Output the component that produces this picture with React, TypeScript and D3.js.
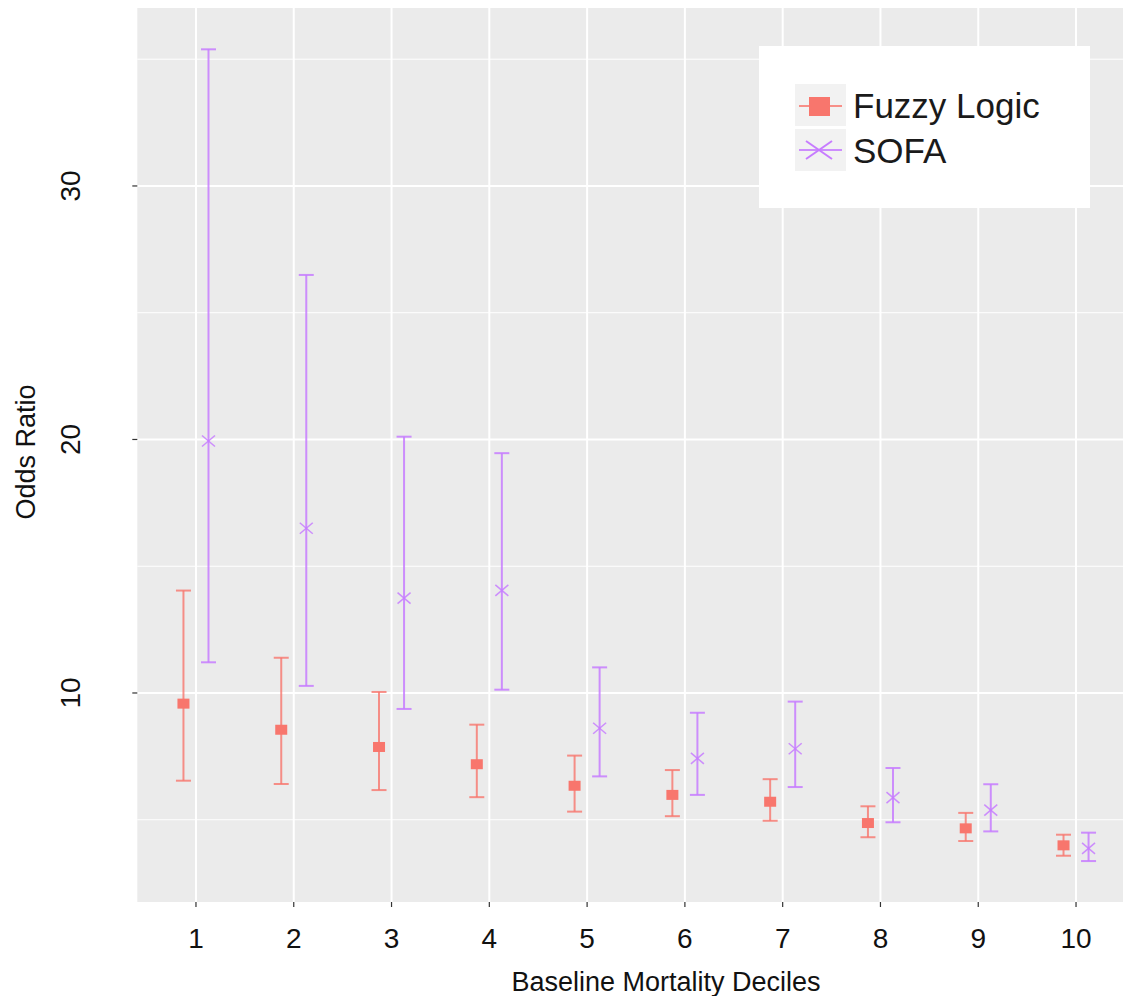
import * as d3 from "d3";

// odds ratios
const deciles = ["1", "2", "3", "4", "5", "6", "7", "8", "9", "10"];
const fuzzyOR = [9.58, 8.55, 7.87, 7.19, 6.34, 5.98, 5.71, 4.87, 4.66, 3.99];
const fuzzyLower = [6.54, 6.41, 6.17, 5.89, 5.32, 5.14, 4.96, 4.31, 4.16, 3.58];
const fuzzyUpper = [14.04, 11.39, 10.04, 8.75, 7.53, 6.96, 6.6, 5.53, 5.27, 4.41];
const sofaOR = [19.94, 16.5, 13.74, 14.05, 8.61, 7.42, 7.8, 5.87, 5.38, 3.87];
const sofaLower = [11.21, 10.28, 9.37, 10.13, 6.71, 5.98, 6.29, 4.9, 4.54, 3.37];
const sofaUpper = [35.39, 26.49, 20.11, 19.46, 11.01, 9.22, 9.66, 7.04, 6.4, 4.49];
const yTicks = [10, 20, 30];
const yMinor = [5, 15, 25, 35];
const seriesNames = ["Fuzzy Logic", "SOFA"];

const W = 1123;
const H = 996;
const FUZZY = "#F8766D";
const SOFA = "#C77CFF";
const FONT = "'Liberation Sans', Arial, Helvetica, sans-serif";

export default function App() {
  const panel = { left: 137.3, right: 1134.7, top: 8, bottom: 902 };

  const x = d3
    .scalePoint<string>()
    .domain(deciles)
    .range([panel.left, panel.right])
    .padding(0.6);
  const step = x.step();
  const dodge = step * 0.128;
  const cap = 7.5;

  const y = d3.scaleLinear().domain([1.755, 37.02]).range([panel.bottom, panel.top]);

  const fuzzy = deciles.map((d, i) => ({ d, v: fuzzyOR[i], lo: fuzzyLower[i], hi: fuzzyUpper[i] }));
  const sofa = deciles.map((d, i) => ({ d, v: sofaOR[i], lo: sofaLower[i], hi: sofaUpper[i] }));

  return (
    <svg
      width={W}
      height={H}
      style={{ position: "absolute", left: 0, top: 0, background: "#fff" }}
      fontFamily={FONT}
    >
      {/* panel */}
      <rect
        x={panel.left}
        y={panel.top}
        width={panel.right - panel.left}
        height={panel.bottom - panel.top}
        fill="#EBEBEB"
      />
      {yMinor.map((t) => (
        <line key={"mi" + t} x1={panel.left} x2={panel.right} y1={y(t)} y2={y(t)} stroke="#fff" strokeWidth={1} />
      ))}
      {yTicks.map((t) => (
        <line key={"ma" + t} x1={panel.left} x2={panel.right} y1={y(t)} y2={y(t)} stroke="#fff" strokeWidth={2} />
      ))}
      {deciles.map((d) => (
        <line key={"gx" + d} x1={x(d)} x2={x(d)} y1={panel.top} y2={panel.bottom} stroke="#fff" strokeWidth={2} />
      ))}

      {/* fuzzy logic error bars */}
      {fuzzy.map((p) => {
        const cx = (x(p.d) ?? 0) - dodge;
        return (
          <g key={"f" + p.d} stroke={FUZZY} strokeWidth={2} strokeOpacity={0.8}>
            <line x1={cx} x2={cx} y1={y(p.lo)} y2={y(p.hi)} />
            <line x1={cx - cap} x2={cx + cap} y1={y(p.lo)} y2={y(p.lo)} />
            <line x1={cx - cap} x2={cx + cap} y1={y(p.hi)} y2={y(p.hi)} />
            <rect x={cx - 6} y={y(p.v) - 5} width={12} height={10} fill={FUZZY} stroke="none" />
          </g>
        );
      })}

      {/* SOFA error bars */}
      {sofa.map((p) => {
        const cx = (x(p.d) ?? 0) + dodge;
        const cy = y(p.v);
        return (
          <g key={"s" + p.d} stroke={SOFA} strokeWidth={2} strokeOpacity={0.85}>
            <line x1={cx} x2={cx} y1={y(p.lo)} y2={y(p.hi)} />
            <line x1={cx - cap} x2={cx + cap} y1={y(p.lo)} y2={y(p.lo)} />
            <line x1={cx - cap} x2={cx + cap} y1={y(p.hi)} y2={y(p.hi)} />
            <line x1={cx - 6.5} x2={cx + 6.5} y1={cy - 5.5} y2={cy + 5.5} strokeWidth={1.5} />
            <line x1={cx - 6.5} x2={cx + 6.5} y1={cy + 5.5} y2={cy - 5.5} strokeWidth={1.5} />
          </g>
        );
      })}

      {/* y axis */}
      {yTicks.map((t) => (
        <g key={"yt" + t}>
          <line x1={panel.left - 5} x2={panel.left} y1={y(t)} y2={y(t)} stroke="#333" strokeWidth={1.2} />
          <text
            transform={`translate(80,${y(t)}) rotate(-90)`}
            textAnchor="middle"
            fontSize={28}
            fill="#111"
          >
            {t}
          </text>
        </g>
      ))}
      <text transform={`translate(35,452) rotate(-90)`} textAnchor="middle" fontSize={27} fill="#111">
        Odds Ratio
      </text>

      {/* x axis */}
      {deciles.map((d) => (
        <g key={"xt" + d}>
          <line x1={x(d)} x2={x(d)} y1={panel.bottom} y2={panel.bottom + 5} stroke="#333" strokeWidth={1.2} />
          <text x={x(d)} y={948} textAnchor="middle" fontSize={28} fill="#111">
            {d}
          </text>
        </g>
      ))}
      <text x={666} y={991} textAnchor="middle" fontSize={27} fill="#111">
        Baseline Mortality Deciles
      </text>

      {/* legend */}
      <g>
        <rect x={759} y={46} width={331} height={162} fill="#fff" />
        <rect x={795} y={84} width={51} height={42} fill="#F2F2F2" />
        <rect x={795} y={129} width={51} height={42} fill="#F2F2F2" />
        <line x1={799} x2={842} y1={106} y2={106} stroke={FUZZY} strokeWidth={2} strokeOpacity={0.8} />
        <rect x={809} y={97} width={21} height={19} fill={FUZZY} />
        <line x1={799} x2={842} y1={150} y2={150} stroke={SOFA} strokeWidth={2} strokeOpacity={0.85} />
        <line x1={806} x2={832} y1={141} y2={159} stroke={SOFA} strokeWidth={2} />
        <line x1={806} x2={832} y1={159} y2={141} stroke={SOFA} strokeWidth={2} />
        <text x={853} y={118} fontSize={35} fill="#1a1a1a">
          {seriesNames[0]}
        </text>
        <text x={853} y={163} fontSize={35} fill="#1a1a1a">
          {seriesNames[1]}
        </text>
      </g>
    </svg>
  );
}
